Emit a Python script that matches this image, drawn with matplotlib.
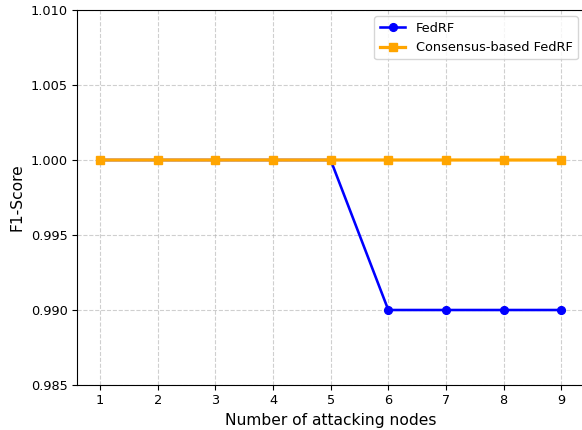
import matplotlib
matplotlib.use('Agg')
import matplotlib.pyplot as plt

# data
attacking_nodes = [1, 2, 3, 4, 5, 6, 7, 8, 9]
fedrf_f1 = [1.0, 1.0, 1.0, 1.0, 1.0, 0.99, 0.99, 0.99, 0.99]
consensus_f1 = [1.0, 1.0, 1.0, 1.0, 1.0, 1.0, 1.0, 1.0, 1.0]

s = 0.93  # the reference looks a bit scaled down
plt.rcParams['font.size'] = 10 * s
plt.rcParams['xtick.major.size'] = 3.5 * s
plt.rcParams['ytick.major.size'] = 3.5 * s

fig = plt.figure(figsize=(5.82, 4.30), dpi=100)
ax = fig.add_axes([77/582, 1 - 385/430, 1 - 77/582 + 0.004, (385 - 10)/430])

ax.plot(attacking_nodes, fedrf_f1, color='blue', marker='o', markersize=6 * s,
        linewidth=2 * s, label='FedRF', snap=False)
ax.plot(attacking_nodes, consensus_f1, color='orange', marker='s', markersize=6 * s,
        linewidth=2.5 * s, label='Consensus-based FedRF', snap=False)

ax.set_ylim(0.985, 1.010)
ax.set_xlim(0.6, 9.4)
ax.set_xticks(attacking_nodes)
ax.set_xlabel('Number of attacking nodes', fontsize=12 * s)
ax.set_ylabel('F1-Score', fontsize=12 * s)
ax.grid(True, linestyle='--', alpha=0.6)
ax.legend(loc='upper right')

fig.savefig('out.png', dpi=100)
